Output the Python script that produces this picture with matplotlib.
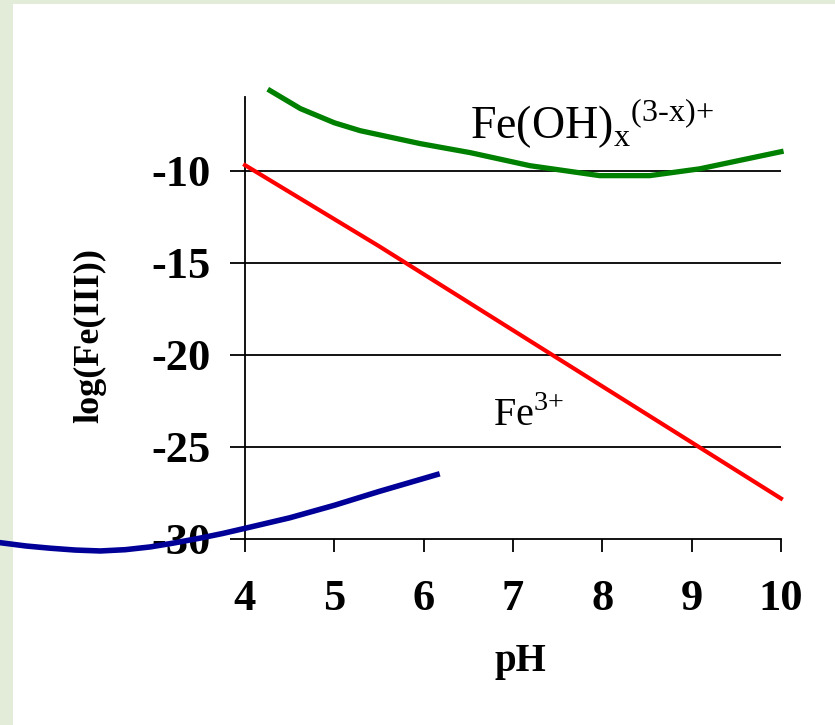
import numpy as np
import matplotlib.pyplot as plt
from matplotlib.patches import Rectangle

plt.rcParams['font.family'] = 'Liberation Serif'
plt.rcParams['mathtext.fontset'] = 'custom'
plt.rcParams['mathtext.rm'] = 'Liberation Serif'

# Fe(OH)x species
ph_oh = [4.28, 4.62, 5.0, 5.29, 5.96, 6.52, 7.19, 7.97, 8.53, 9.09, 10.0]
log_oh = [-5.65, -6.63, -7.4, -7.83, -8.53, -9.02, -9.73, -10.27, -10.27, -9.9, -8.97]

# Fe3+
ph_fe3 = [4.0, 5.5, 10.0]
log_fe3 = [-9.7, -14.1, -27.8]

# third (blue) curve
ph_blue = [1.26, 1.55, 1.82, 2.1, 2.38, 2.66, 2.94, 3.2, 3.5, 3.75, 4.0, 4.5, 5.0, 5.5, 6.15]
log_blue = [-30.2, -30.38, -30.5, -30.6, -30.65, -30.58, -30.43, -30.22, -29.95, -29.7, -29.42,
            -28.85, -28.17, -27.42, -26.5]

xticks = [4, 5, 6, 7, 8, 9, 10]
yticks = [-10, -15, -20, -25, -30]

fig = plt.figure(figsize=(8.35, 7.25), dpi=100)
fig.patch.set_facecolor('#e2ecd8')
fig.add_artist(Rectangle((13/835, 0), 1 - 13/835, 1 - 4/725, transform=fig.transFigure,
                         facecolor='white', edgecolor='none', zorder=-5))

ax = fig.add_axes([245/835, 1 - 539/725, 536/835, 442/725])
ax.set_facecolor('none')

for y in yticks[:-1]:
    ax.axhline(y, color='black', lw=1.3, zorder=1)

ax.plot(ph_oh, log_oh, color='#008000', lw=3.8, clip_on=False, zorder=3)
ax.plot(ph_fe3, log_fe3, color='#ff0000', lw=3.0, clip_on=False, zorder=3)
ax.plot(ph_blue, log_blue, color='#000099', lw=4.0, clip_on=False, zorder=4)

ax.set_xlim(4, 10)
ax.set_ylim(-30, -6)
ax.set_xticks(xticks)
ax.set_yticks(yticks)
ax.set_xticklabels([str(t) for t in xticks], fontsize=32, fontweight='bold')
ax.set_yticklabels([str(t) for t in yticks], fontsize=32, fontweight='bold')
ax.tick_params(axis='x', direction='out', length=9, width=1.3, pad=20)
ax.tick_params(axis='y', direction='out', length=11, width=1.3, pad=14)

for s in ['top', 'right']:
    ax.spines[s].set_visible(False)
for s in ['left', 'bottom']:
    ax.spines[s].set_linewidth(1.3)

ax.set_xlabel('pH', fontsize=28, fontweight='bold')
ax.xaxis.set_label_coords(0.513, -0.235)
ax.set_ylabel('log(Fe(III))', fontsize=26, fontweight='bold')
ax.yaxis.set_label_coords(-0.258, 0.46)

ax.text(6.52, -8.26, r'Fe(OH)$_\mathrm{x}{}^\mathrm{(3\text{-}x){+}}$', fontsize=33, va='baseline')
ax.text(6.78, -23.86, r'Fe$^\mathrm{3{+}}$', fontsize=29, va='baseline')

plt.savefig('out.png', dpi=100)
